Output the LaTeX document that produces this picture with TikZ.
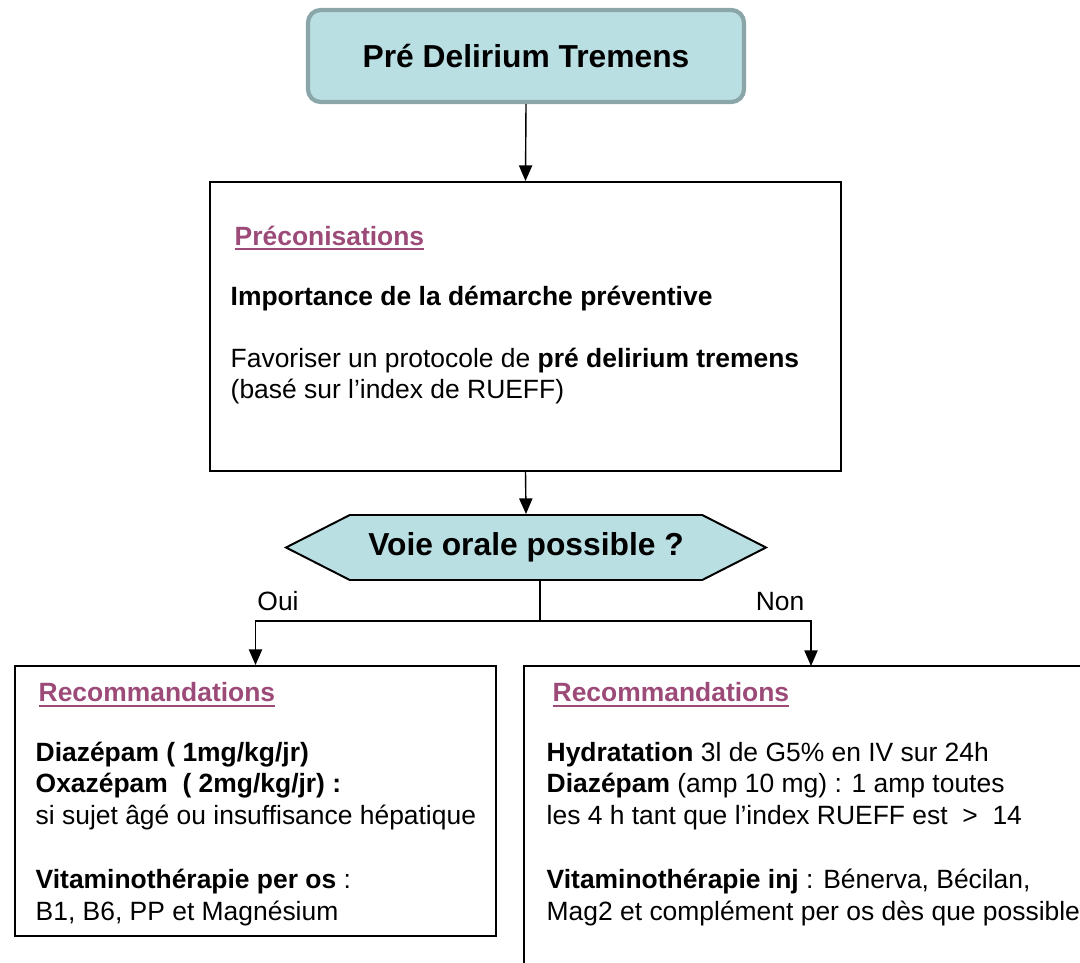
\documentclass[tikz,border=0pt]{standalone}
\usepackage{fontspec}
\setmainfont{Liberation Sans}
\usetikzlibrary{arrows.meta, positioning, shapes.symbols}
\definecolor{cteal}{HTML}{B9DFE3}
\definecolor{cframe}{HTML}{8BA6A9}
\definecolor{cplum}{HTML}{9C4A78}
\newcommand{\ulbar}[1]{\setbox0\hbox{#1}\rlap{\rule[-3.6pt]{\wd0}{1.5pt}}\box0}
\tikzset{
  every picture/.style={line width=1pt},
  panel/.style={draw, line width=1.4pt, minimum width=#1, inner sep=0pt},
  heading/.style={font=\bfseries\fontsize{18.8}{22.6}\selectfont, text=cplum, anchor=base west, inner sep=0pt},
  body/.style={font=\fontsize{18.8}{22.6}\selectfont, align=left, anchor=base west, inner sep=0pt},
  big/.style={font=\bfseries\fontsize{22.6}{27}\selectfont},
  arrow/.style={-{Triangle[length=3.9mm, width=3.3mm]}, line width=1pt},
}

\begin{document}
\begin{tikzpicture}
  \useasboundingbox (0,0) rectangle (27,-24.05);
  \clip (0,0) rectangle (27,-24.05);
  % title and first panel
  \node[big, draw=cframe, fill=cteal, line width=3pt, rounded corners=9pt, minimum width=10.9cm, minimum height=2.3cm] (title) at (13.15,-1.4) {Pré Delirium Tremens};
  \node[panel=15.775cm, minimum height=7.225cm] (pre) at (13.1375,-8.1625) {};
  \node[heading] (prehead) at (5.85,-6.125) {\ulbar{Préconisations}};
  \node[body] (prebold) at (5.75,-7.64) {\textbf{Importance de la démarche préventive}};
  % base of a multi-line node = last line
  \node[body] (pretext) at (5.75,-9.97) {Favoriser un protocole de \textbf{pré delirium tremens}\\(basé sur l’index de RUEFF)};
  \draw[arrow] (title.south) -- (pre.north);
  % the question
  \node[big, signal, signal to=west and east, signal pointer angle=54, draw, fill=cteal, line width=1.4pt, minimum width=12cm, minimum height=1.625cm] (ask) at (13.15,-13.6875) {Voie orale possible ?};
  \draw[arrow] (pre.south) -- (ask.north);
  % the two answers
  \node[panel=12.025cm, minimum height=6.75cm] (oui) at (6.3875,-20.025) {};
  \node[panel=14cm, minimum height=7.75cm] (non) at (20.1,-20.525) {};
  \coordinate (split) at (13.5,-15.525);
  \coordinate (nontop) at (20.275,-16.65);
  \draw (ask.south -| split) -- (split);
  \draw[arrow] (split) -| (oui.north);
  \draw[arrow] (split) -| (nontop);
  \node[body, anchor=base] (ouilabel) at (6.95,-15.27) {Oui};
  \node[body, anchor=base] (nonlabel) at (19.5,-15.27) {Non};
  % left panel
  \node[heading] (ouihead) at (0.95,-17.54) {\ulbar{Recommandations}};
  \node[body] (ouitext) at (0.875,-23.0) {\textbf{Diazépam ( 1mg/kg/jr)}\\
    \textbf{Oxazépam\ \ ( 2mg/kg/jr) :}\\
    si sujet âgé ou insuffisance hépatique\\[22.6pt]
    \textbf{Vitaminothérapie per os} :\\
    B1, B6, PP et Magnésium};
  % right panel
  \node[heading] (nonhead) at (13.8,-17.54) {\ulbar{Recommandations}};
  \node[body] (nontext) at (13.65,-23.0) {\textbf{Hydratation} 3l de G5\% en IV sur 24h\\
    \textbf{Diazépam} (amp 10 mg) : 1 amp toutes\\
    les 4 h tant que l’index RUEFF est \ >\ \ 14\\[22.6pt]
    \textbf{Vitaminothérapie inj} : Bénerva, Bécilan,\\
    Mag2 et complément per os dès que possible};
\end{tikzpicture}
\end{document}
